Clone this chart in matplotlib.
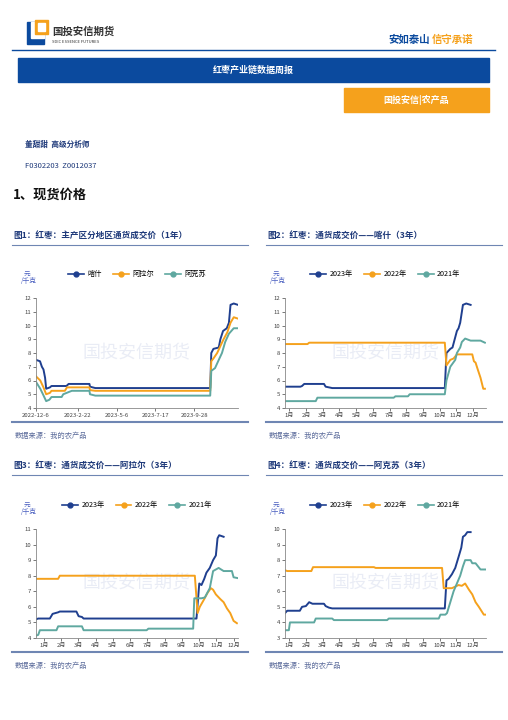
import matplotlib
matplotlib.use("Agg")
import matplotlib.pyplot as plt
from matplotlib.patches import Rectangle
from matplotlib.lines import Line2D

plt.rcParams['font.family'] = ['Noto Sans CJK SC', 'DejaVu Sans']

W, H = 508, 720
NAVY = '#1f3f8f'; ORANGE = '#f5a11c'; TEAL = '#5fa8a0'; BAR = '#0b4a9e'; TXT = '#1f3a7a'

# ---- Chart 1 data (days since 2022-12-6) ----
c1_ticks = [0, 78, 151, 223, 296]
c1_labels = ['2022-12-6', '2023-2-22', '2023-5-6', '2023-7-17', '2023-9-28']
ks_d = [0, 7.5, 11, 14, 17, 19, 26, 29, 57, 61, 100, 101, 111, 326, 328, 332, 342, 345, 350, 357, 361, 364, 370, 378]
ks_v = [7.5, 7.4, 7.0, 6.8, 6.2, 5.4, 5.5, 5.6, 5.6, 5.75, 5.75, 5.55, 5.45, 5.45, 8.0, 8.3, 8.4, 9.0, 9.6, 9.8, 10.2, 11.5, 11.6, 11.5]
al_d = [0, 8, 14, 19, 26, 29, 54, 58, 100, 101, 111, 326, 328, 332, 339, 345, 351, 358, 364, 370, 378]
al_v = [6.3, 6.0, 5.5, 5.0, 5.1, 5.25, 5.25, 5.5, 5.5, 5.3, 5.25, 5.25, 7.4, 7.6, 8.0, 8.5, 9.0, 9.5, 10.2, 10.6, 10.5]
ak_d = [0, 8, 13, 19, 25, 29, 48, 51, 67, 100, 101, 111, 326, 328, 335, 342, 348, 354, 361, 370, 378]
ak_v = [5.9, 5.4, 5.0, 4.5, 4.6, 4.8, 4.8, 5.0, 5.25, 5.25, 5.0, 4.9, 4.9, 6.7, 6.9, 7.5, 8.0, 8.8, 9.4, 9.8, 9.8]

# ---- Chart 2: Kashgar 3 years (day of year) ----
k23_d = [0, 28, 31, 35, 71, 74, 86, 291, 294, 301, 305, 309, 313, 316, 319, 324, 330, 338]
k23_v = [5.55, 5.55, 5.6, 5.75, 5.75, 5.55, 5.45, 5.45, 8.0, 8.3, 8.4, 9.0, 9.6, 9.8, 10.2, 11.5, 11.6, 11.5]
k22_d = [0, 41, 44, 291, 294, 301, 307, 313, 341, 344, 347, 351, 356, 361, 364]
k22_v = [8.65, 8.65, 8.75, 8.75, 7.1, 7.5, 7.6, 7.9, 7.9, 7.4, 7.3, 6.8, 6.2, 5.4, 5.4]
k21_d = [0, 56, 59, 198, 201, 224, 227, 291, 294, 301, 310, 313, 319, 322, 328, 338, 356, 364]
k21_v = [4.5, 4.5, 4.75, 4.75, 4.85, 4.85, 5.0, 5.0, 6.0, 7.0, 7.5, 8.0, 8.4, 8.8, 9.05, 8.9, 8.9, 8.75]

# ---- Chart 3: Alar 3 years ----
a23_d = [0, 4, 25, 30, 40, 43, 73, 77, 83, 86, 290, 295, 299, 304, 308, 314, 320, 325, 328, 331, 339]
a23_v = [5.2, 5.25, 5.25, 5.55, 5.65, 5.7, 5.7, 5.4, 5.35, 5.25, 5.25, 7.5, 7.4, 7.8, 8.2, 8.5, 9.0, 9.3, 10.4, 10.6, 10.5]
a22_d = [0, 40, 43, 287, 292, 296, 304, 310, 316, 320, 325, 333, 339, 345, 351, 357, 363]
a22_v = [7.8, 7.8, 8.0, 8.0, 5.6, 6.0, 6.5, 6.9, 7.2, 7.1, 6.8, 6.5, 6.3, 5.9, 5.6, 5.1, 4.95]
a21_d = [0, 4, 7, 37, 40, 83, 86, 200, 203, 284, 286, 299, 305, 314, 320, 330, 339, 354, 357, 364]
a21_v = [4.15, 4.2, 4.5, 4.5, 4.75, 4.75, 4.5, 4.5, 4.6, 4.6, 6.55, 6.55, 6.6, 7.2, 8.3, 8.5, 8.3, 8.3, 7.9, 7.85]

# ---- Chart 4: Aksu 3 years ----
s23_d = [0, 4, 27, 31, 38, 44, 50, 71, 74, 80, 86, 291, 294, 298, 304, 310, 316, 321, 324, 328, 332, 338]
s23_v = [4.6, 4.75, 4.75, 5.0, 5.05, 5.3, 5.2, 5.2, 5.05, 4.95, 4.9, 4.9, 6.7, 6.8, 7.1, 7.5, 8.2, 8.8, 9.5, 9.6, 9.8, 9.8]
s22_d = [0, 4, 48, 51, 162, 165, 286, 289, 304, 310, 316, 322, 328, 335, 341, 347, 353, 362, 365]
s22_v = [7.35, 7.3, 7.3, 7.55, 7.55, 7.5, 7.5, 6.2, 6.2, 6.3, 6.4, 6.35, 6.5, 6.1, 5.8, 5.3, 5.0, 4.5, 4.5]
s21_d = [0, 7, 9, 53, 56, 86, 89, 186, 189, 280, 283, 292, 295, 301, 307, 313, 319, 324, 328, 338, 341, 347, 356, 365]
s21_v = [3.5, 3.5, 4.0, 4.0, 4.25, 4.25, 4.15, 4.15, 4.25, 4.25, 4.5, 4.5, 4.6, 5.3, 6.0, 6.5, 7.0, 7.6, 8.0, 8.0, 7.8, 7.8, 7.4, 7.4]

months = ['1月', '2月', '3月', '4月', '5月', '6月', '7月', '8月', '9月', '10月', '11月', '12月']

fig = plt.figure(figsize=(W/100, H/100), dpi=100)
fig.patch.set_facecolor('white')

def fx(x): return x / W
def fy(y): return 1 - y / H

def rect(x0, y0, x1, y1, color):
    fig.patches.append(Rectangle((fx(x0), fy(y1)), fx(x1) - fx(x0), fy(y0) - fy(y1),
                                 transform=fig.transFigure, color=color, zorder=0))

def hline(x0, x1, y, color, lw):
    fig.lines.append(Line2D([fx(x0), fx(x1)], [fy(y), fy(y)], transform=fig.transFigure, color=color, lw=lw))

def txt(x, y, s, **kw):
    fig.text(fx(x), fy(y), s, **kw)

# header
rect(27, 22, 44, 44, BAR)
rect(31, 22, 44, 38, 'white')
rect(35, 20, 48, 34, ORANGE)
rect(38, 23, 45, 31, 'white')
txt(52, 32, '国投安信期货', fontsize=7.5, color='#333333', va='center', fontweight='bold')
txt(52, 42, 'SDIC ESSENCE FUTURES', fontsize=3, color='#333333', va='center')
txt(430, 40, '安如泰山', fontsize=7.5, color=BAR, fontweight='bold', va='center', ha='right')
txt(432, 40, '信守承诺', fontsize=7.5, color=ORANGE, fontweight='bold', va='center', ha='left')
hline(12, 495, 50, BAR, 1.0)
rect(18, 58, 489, 82, BAR)
txt(253, 70, '红枣产业链数据周报', fontsize=6.5, color='white', ha='center', va='center', fontweight='bold')
rect(344, 88, 489, 112, ORANGE)
txt(416, 100, '国投安信|农产品', fontsize=6.5, color='white', ha='center', va='center', fontweight='bold')
txt(25, 144, '董甜甜  高级分析师', fontsize=5.5, color=TXT, va='center', fontweight='bold')
txt(25, 166, 'F0302203  Z0012037', fontsize=5.5, color=TXT, va='center')
txt(13, 195, '1、现货价格', fontsize=9.5, color='#111111', va='center', fontweight='bold')

def panel(px0, py0, title, ax_box, series, labels, ylim, xlim, xticks, xlabels):
    txt(px0 + 0, py0 + 15, title, fontsize=6.2, color=TXT, va='center', fontweight='bold')
    hline(px0 - 1, px0 + 235, py0 + 25, '#6f86b3', 0.8)
    hline(px0 - 1, px0 + 235, py0 + 202, '#6f86b3', 1.5)
    txt(px0 + 2, py0 + 216, '数据来源：我的农产品', fontsize=5.2, color='#5a6a9a', va='center', style='italic')
    x0, y0, x1, y1 = ax_box
    ax = fig.add_axes([fx(x0), fy(y1), fx(x1) - fx(x0), fy(y0) - fy(y1)])
    for (d, v), lab, c in zip(series, labels, [NAVY, ORANGE, TEAL]):
        ax.plot(d, v, color=c, lw=1.4, label=lab)
    ax.set_ylim(*ylim); ax.set_xlim(*xlim)
    ax.set_yticks(range(ylim[0], ylim[1] + 1))
    ax.set_xticks(xticks); ax.set_xticklabels(xlabels)
    ax.tick_params(labelsize=4.3, colors='#444444', length=2, width=0.5, pad=1.5)
    for s in ['top', 'right']:
        ax.spines[s].set_visible(False)
    for s in ['left', 'bottom']:
        ax.spines[s].set_color('#888888'); ax.spines[s].set_linewidth(0.6)
    fig.text(fx(x0 - 12), fy(y0 - 24), '元', fontsize=4.8, color='#4a5fc0', ha='left', va='center')
    fig.text(fx(x0 - 15), fy(y0 - 17), '/千克', fontsize=4.8, color='#4a5fc0', ha='left', va='center')
    ax.text(0.5, 0.5, '国投安信期货', transform=ax.transAxes, fontsize=13, color='#d5dbed',
            ha='center', va='center', alpha=0.5, zorder=0)
    handles = [Line2D([0], [0], color=c, lw=1.2, marker='o', ms=3.5) for c in [NAVY, ORANGE, TEAL]]
    ax.legend(handles, labels, loc='lower center', bbox_to_anchor=(0.5, 1.12), ncol=3, frameon=False,
              fontsize=5.2, handlelength=2.2, columnspacing=1.5, handletextpad=0.5)
    return ax

yrs = ['2023年', '2022年', '2021年']
mt = [8 + 30.4 * i for i in range(12)]
mt3 = [14 + 31.2 * i for i in range(12)]

panel(13, 220, '图1：红枣：主产区分地区通货成交价（1年）', (36, 298, 238, 408),
      [(ks_d, ks_v), (al_d, al_v), (ak_d, ak_v)], ['喀什', '阿拉尔', '阿克苏'],
      (4, 12), (0, 378), c1_ticks, c1_labels)
panel(267, 220, '图2：红枣：通货成交价——喀什（3年）', (285, 298, 486, 408),
      [(k23_d, k23_v), (k22_d, k22_v), (k21_d, k21_v)], yrs,
      (4, 12), (0, 366), mt, months)
panel(13, 450, '图3：红枣：通货成交价——阿拉尔（3年）', (36, 529, 238, 638),
      [(a23_d, a23_v), (a22_d, a22_v), (a21_d, a21_v)], yrs,
      (4, 11), (0, 365), mt3, months)
panel(267, 450, '图4：红枣：通货成交价——阿克苏（3年）', (285, 529, 486, 638),
      [(s23_d, s23_v), (s22_d, s22_v), (s21_d, s21_v)], yrs,
      (3, 10), (0, 366), mt, months)

fig.savefig('out.png', dpi=100)
